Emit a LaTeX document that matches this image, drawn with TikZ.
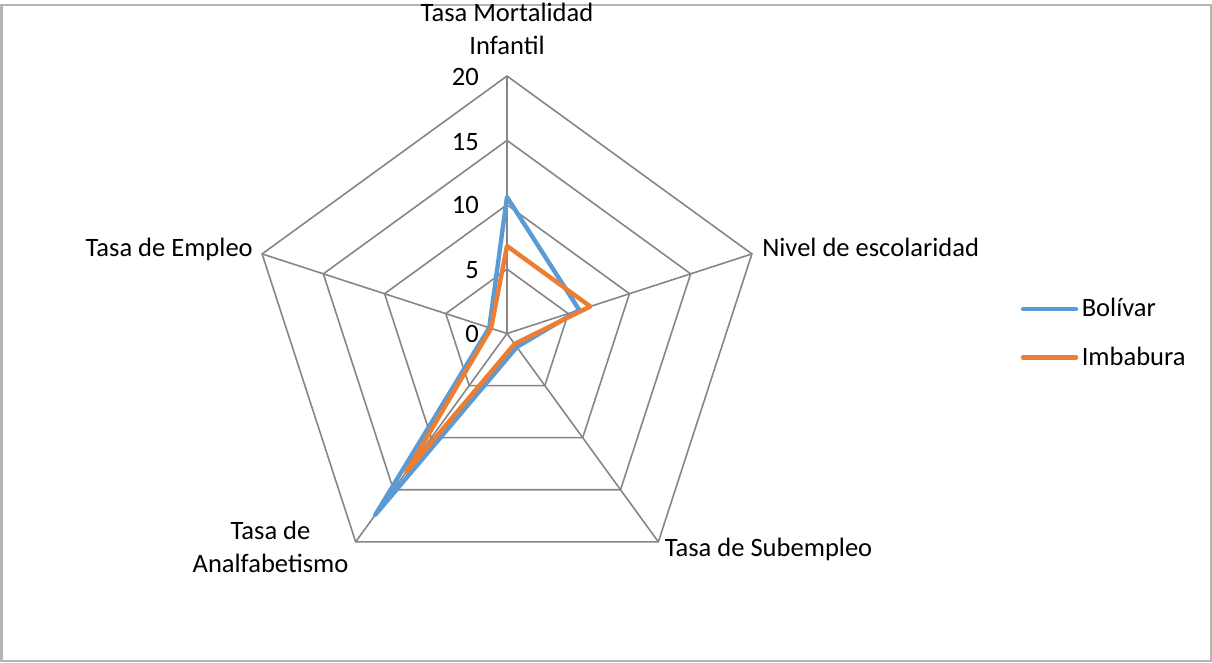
\documentclass[tikz,border=0pt]{standalone}
\usepackage{fontspec}
\setmainfont{Carlito}
\definecolor{serA}{HTML}{5B9BD5}
\definecolor{serB}{HTML}{ED7D31}
\definecolor{gridc}{HTML}{868686}
\definecolor{framec}{HTML}{B4B4B4}
\begin{document}
\begin{tikzpicture}[x=0.75pt,y=-0.75pt,
  lbl/.style={font=\fontsize{19.9}{24.5}\selectfont, inner sep=0pt, text=black},
  gridline/.style={draw=gridc, line width=1.2pt, line join=miter},
  series/.style={line width=3.3pt, line join=round, line cap=round},
]
\useasboundingbox (0,0) rectangle (1212,662);
\draw[framec, line width=1.5pt] (1.5,4.5) rectangle (1211,661);

\begin{scope}[shift={(507,333.5)}, yscale=-1]
  \coordinate (O) at (0,0);
  % rings
  \foreach \v in {5,10,15,20}
    \draw[gridline] (90:{\v*12.875}) -- (18:{\v*12.875}) -- (-54:{\v*12.875})
      -- (-126:{\v*12.875}) -- (162:{\v*12.875}) -- cycle;
  % spokes
  \foreach \a/\n in {90/aM,18/aN,-54/aS,-126/aA,162/aE} {
    \coordinate (\n) at (\a:257.5);
    \draw[gridline] (O) -- (\n);
  }
  % Bolivar
  \coordinate (b1) at (90:{10.6*12.875});
  \coordinate (b2) at (18:{5.9*12.875});
  \coordinate (b3) at (-54:{1.3*12.875});
  \coordinate (b4) at (-126:{17.4*12.875});
  \coordinate (b5) at (162:{1.45*12.875});
  \draw[serA, series] (b1) -- (b2) -- (b3) -- (b4) -- (b5) -- cycle;
  % Imbabura
  \coordinate (i1) at (90:{6.8*12.875});
  \coordinate (i2) at (18:{6.8*12.875});
  \coordinate (i3) at (-54:{1.0*12.875});
  \coordinate (i4) at (-126:{13.3*12.875});
  \coordinate (i5) at (162:{1.3*12.875});
  \draw[serB, series] (i1) -- (i2) -- (i3) -- (i4) -- (i5) -- cycle;
\end{scope}

% axis tick labels
\node[lbl, anchor=base east] (t20) at (479,85) {20};
\node[lbl, anchor=base east] (t15) at (479,150) {15};
\node[lbl, anchor=base east] (t10) at (479,213.8) {10};
\node[lbl, anchor=base east] (t5)  at (479,278) {5};
\node[lbl, anchor=base east] (t0)  at (479,342.5) {0};

% category labels
\node[lbl, align=center, anchor=south] (cMort) at (507,55) {Tasa Mortalidad\\Infantil};
\node[lbl, anchor=base west] (cNiv) at (762,256.7) {Nivel de escolaridad};
\node[lbl, anchor=base west] (cSub) at (664.5,556.7) {Tasa de Subempleo};
\node[lbl, anchor=base east] (cEmp) at (253,256.7) {Tasa de Empleo};
\node[lbl, align=center, anchor=south] (cAna) at (270.5,572.7) {Tasa de\\Analfabetismo};

% legend
\coordinate (lA1) at (1023,309);
\coordinate (lA2) at (1076,309);
\coordinate (lB1) at (1023,357.3);
\coordinate (lB2) at (1076,357.3);
\draw[serA, series] (lA1) -- (lA2);
\draw[serB, series] (lB1) -- (lB2);
\node[lbl, anchor=base west] (legA) at (1081.5,316.7) {Bolívar};
\node[lbl, anchor=base west] (legB) at (1081.5,365) {Imbabura};
\end{tikzpicture}
\end{document}
